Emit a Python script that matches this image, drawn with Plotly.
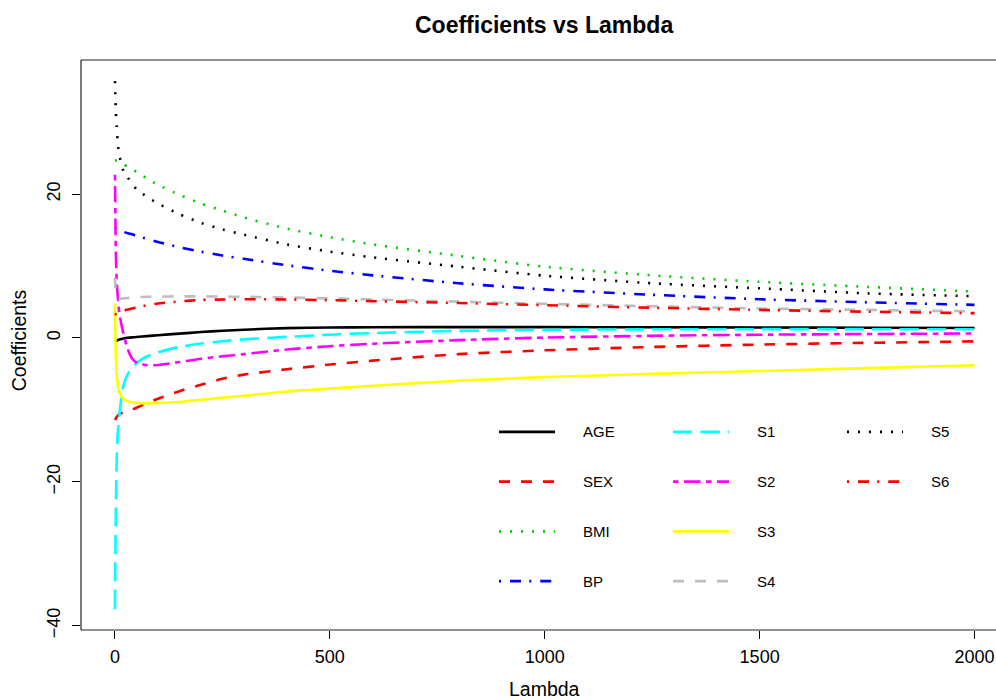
import plotly.graph_objects as go

# ---------------- data ----------------
lam = [0, 1, 2, 4, 6, 8, 10, 15, 20, 30, 40, 50, 75, 100, 150, 200, 250, 300,
       400, 500, 600, 800, 1000, 1250, 1500, 1750, 2000]

AGE = [-0.48, -0.45, -0.42, -0.37, -0.32, -0.27, -0.23, -0.14, -0.07, 0.02, 0.08, 0.13, 0.26, 0.38,
       0.6, 0.82, 1.0, 1.15, 1.37, 1.45, 1.49, 1.51, 1.5, 1.48, 1.45, 1.42, 1.39]
SEX = [-11.4, -11.3, -11.2, -11.0, -10.85, -10.7, -10.6, -10.45, -10.35, -10.15, -9.95, -9.7, -9.05,
       -8.45, -7.4, -6.5, -5.68, -5.1, -4.35, -3.7, -3.15, -2.25, -1.72, -1.25, -0.92, -0.68, -0.48]
BMI = [24.7, 24.7, 24.65, 24.6, 24.55, 24.5, 24.45, 24.3, 24.15, 23.8, 23.45, 23.1, 22.15, 21.3,
       19.9, 18.7, 17.7, 16.75, 15.2, 14.0, 13.0, 11.4, 9.9, 8.7, 7.8, 7.1, 6.45]
BP = [15.4, 15.35, 15.3, 15.2, 15.1, 15.0, 14.95, 14.85, 14.75, 14.55, 14.4, 14.2, 13.75, 13.35,
      12.6, 12.0, 11.45, 11.0, 10.1, 9.35, 8.7, 7.6, 6.75, 6.0, 5.38, 4.95, 4.6]
S1 = [-37.7, -30.0, -24.5, -17.0, -13.8, -12.3, -11.0, -8.2, -6.6, -5.0, -4.1, -3.5, -2.55, -2.0,
      -1.25, -0.78, -0.45, -0.2, 0.15, 0.45, 0.68, 0.98, 1.12, 1.2, 1.22, 1.22, 1.2]
S2 = [22.7, 17.0, 12.0, 8.0, 6.2, 4.8, 3.5, 1.9, 0.5, -1.6, -2.85, -3.4, -3.8, -3.75,
      -3.35, -2.9, -2.55, -2.25, -1.6, -1.15, -0.8, -0.3, 0.05, 0.3, 0.45, 0.55, 0.62]
S3 = [4.8, 0.5, -2.5, -5.0, -6.3, -7.0, -7.5, -8.1, -8.45, -8.8, -8.95, -9.05, -9.1, -9.05,
      -8.9, -8.6, -8.3, -8.05, -7.45, -7.05, -6.65, -5.95, -5.45, -5.0, -4.6, -4.2, -3.8]
S4 = [8.4, 7.2, 6.4, 5.8, 5.55, 5.47, 5.45, 5.47, 5.5, 5.55, 5.6, 5.65, 5.72, 5.75,
      5.78, 5.78, 5.75, 5.72, 5.62, 5.5, 5.35, 5.05, 4.75, 4.4, 4.1, 3.9, 3.7]
S5 = [35.7, 33.5, 31.5, 29.4, 27.6, 26.3, 25.5, 24.2, 23.2, 22.3, 21.4, 20.7, 19.6, 18.7,
      17.2, 16.0, 15.1, 14.35, 13.0, 12.0, 11.2, 9.9, 8.65, 7.6, 6.9, 6.2, 5.8]
S6 = [3.2, 3.25, 3.3, 3.4, 3.5, 3.55, 3.6, 3.7, 3.8, 3.95, 4.1, 4.25, 4.55, 4.78,
      5.08, 5.28, 5.35, 5.38, 5.35, 5.25, 5.12, 4.85, 4.55, 4.2, 3.9, 3.65, 3.45]

names = ["AGE", "SEX", "BMI", "BP", "S1", "S2", "S3", "S4", "S5", "S6"]
series = [AGE, SEX, BMI, BP, S1, S2, S3, S4, S5, S6]
x_ticks = [0, 500, 1000, 1500, 2000]
y_ticks = [-40, -20, 0, 20]

# ---------------- styles ----------------
colors = ["#000000", "#FF0000", "#00CD00", "#0000FF", "#00FFFF", "#FF00FF",
          "#FFFF00", "#BEBEBE", "#000000", "#FF0000"]
u = 2.75
DASH = {
    1: "solid",
    2: f"{4*u}px,{4*u}px",
    3: f"2px,{4*u-2}px",
    4: f"2px,{4*u-2}px,{4*u}px,{3*u}px",
    5: f"{7*u}px,{3*u}px",
    6: f"{2*u}px,{2*u}px,{6*u}px,{2*u}px",
}
ltys = [1, 2, 3, 4, 5, 6, 1, 2, 3, 4]
LW = 2.6
FONT = "Liberation Sans, Arial, Helvetica, sans-serif"

W, H = 996, 700
ML, MR, MT, MB = 81, 0, 59.5, 70
PW, PH = W - ML - MR, H - MT - MB


def px2x(px):
    return (px - ML) / PW


def px2y(py):
    return (H - MB - py) / PH


fig = go.Figure()
for nm, ys, c, lt in zip(names, series, colors, ltys):
    fig.add_trace(go.Scatter(x=lam, y=ys, mode="lines", name=nm,
                             line=dict(color=c, width=LW, dash=DASH[lt],
                                       shape="spline", smoothing=0.6),
                             showlegend=False, hoverinfo="skip"))

shapes = []
# box (right edge lies outside the picture)
for x0, y0, x1, y1 in [(0, 0, 0, 1), (0, 1, 1.1, 1), (0, 0, 1.1, 0)]:
    shapes.append(dict(type="line", xref="paper", yref="paper", x0=x0, y0=y0, x1=x1, y1=y1,
                       line=dict(color="#222222", width=1.2)))

annotations = []
# manual legend, 3 columns
col_x = [499, 673, 847]
row_y0, row_dy = 431.7, 49.8
for i, (nm, c, lt) in enumerate(zip(names, colors, ltys)):
    col, row = divmod(i, 4)
    lx = col_x[col]
    ly = row_y0 + row * row_dy
    shapes.append(dict(type="line", xref="paper", yref="paper",
                       x0=px2x(lx), x1=px2x(lx + 56), y0=px2y(ly), y1=px2y(ly),
                       line=dict(color=c, width=LW, dash=DASH[lt])))
    annotations.append(dict(xref="paper", yref="paper", x=px2x(lx + 82), y=px2y(ly),
                            text=nm, showarrow=False, xanchor="left", yanchor="middle",
                            font=dict(family=FONT, size=15, color="#000000")))

annotations += [
    dict(xref="paper", yref="paper", x=px2x(544), y=px2y(24), text="<b>Coefficients vs Lambda</b>",
         showarrow=False, xanchor="center", yanchor="middle",
         font=dict(family=FONT, size=23, color="#000000")),
    dict(xref="paper", yref="paper", x=px2x(544), y=px2y(689), text="Lambda",
         showarrow=False, xanchor="center", yanchor="middle",
         font=dict(family=FONT, size=19.5, color="#000000")),
    dict(xref="paper", yref="paper", x=px2x(19), y=px2y(340), text="Coefficients",
         showarrow=False, xanchor="center", yanchor="middle", textangle=-90,
         font=dict(family=FONT, size=19.5, color="#000000")),
]

fig.update_layout(
    width=W, height=H,
    margin=dict(l=ML, r=MR, t=MT, b=MB, pad=0),
    paper_bgcolor="white", plot_bgcolor="white",
    shapes=shapes, annotations=annotations,
    hovermode=False,
    xaxis=dict(range=[-79, 2050], tickvals=x_ticks, ticktext=[str(v) for v in x_ticks],
               showgrid=False, zeroline=False, showline=False,
               ticks="outside", ticklen=8, tickwidth=1, tickcolor="#000000",
               ticklabelstandoff=2,
               tickfont=dict(family=FONT, size=18, color="#000000")),
    yaxis=dict(range=[-40.6, 38.64], tickvals=y_ticks,
               ticktext=["\u221240", "\u221220", "0", "20"],
               showgrid=False, zeroline=False, showline=False,
               ticks="outside", ticklen=8, tickwidth=1, tickcolor="#000000",
               tickangle=-90, ticklabelstandoff=5,
               tickfont=dict(family=FONT, size=18, color="#000000")),
)

fig.write_html("out.html")
